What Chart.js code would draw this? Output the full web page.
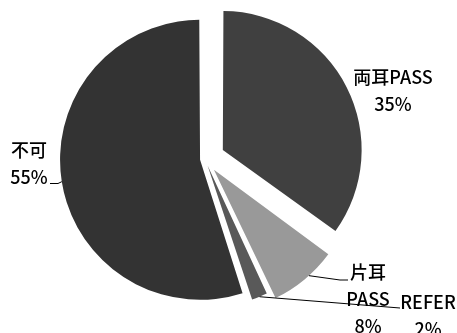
<!DOCTYPE html>
<html lang="ja">
<head>
<meta charset="utf-8">
<title>聴力検査結果</title>
<script src="https://cdn.jsdelivr.net/npm/chart.js@4/dist/chart.umd.min.js"></script>
<style>
  html, body { margin: 0; padding: 0; background: #fff; }
  #wrap { width: 457px; height: 333px; position: relative; }
</style>
</head>
<body>
<div id="wrap"><canvas id="pieChart"></canvas></div>
<script>
const categories = ["両耳PASS", "片耳PASS", "REFER", "不可"];
const percents = [35, 8, 2, 55];
const sliceColors = ["#404040", "#999999", "#595959", "#333333"];

// pull-out distance of each slice (Chart.js divides this by 4)
const sliceOffsets = [80, 56, 28, 20];

// where each label sits and how its leader line runs
const labelLayout = [
  { x: 393, y: 77, breakAt: 8, edgeAt: null, leader: [] },
  { x: 368, y: 272, breakAt: 2, edgeAt: 0.42, leader: [[340, 280], [348, 280]] },
  { x: 428, y: 302, breakAt: 5, edgeAt: 0.5, leader: [[400, 308]] },
  { x: 29, y: 150, breakAt: 2, edgeAt: 0.5, leader: [[58, 183.5], [50, 183.5]] },
];

const sliceLabels = {
  id: "sliceLabels",
  afterDatasetsDraw(chart) {
    const { ctx } = chart;
    const arcs = chart.getDatasetMeta(0).data;
    const total = percents.reduce((a, b) => a + b, 0);
    ctx.save();
    ctx.strokeStyle = "#000";
    ctx.lineWidth = 1;
    arcs.forEach((arc, i) => {
      const spot = labelLayout[i];
      if (spot.edgeAt !== null) {
        const { x, y, startAngle, endAngle, outerRadius } = arc.getProps(
          ["x", "y", "startAngle", "endAngle", "outerRadius"], true);
        const off = (arc.options.offset || 0) / 4;
        const half = (startAngle + endAngle) / 2;
        const sweep = endAngle - startAngle;
        const r = outerRadius + off * (1 - Math.sin(Math.min(Math.PI, sweep)));
        const a = startAngle + sweep * spot.edgeAt;
        const ex = x + Math.cos(half) * off + Math.cos(a) * r;
        const ey = y + Math.sin(half) * off + Math.sin(a) * r;
        ctx.beginPath();
        ctx.moveTo(ex, ey);
        spot.leader.forEach(([lx, ly]) => ctx.lineTo(lx, ly));
        ctx.stroke();
      }
      const name = categories[i];
      const lines = [name.slice(0, spot.breakAt), name.slice(spot.breakAt)]
        .filter((s) => s.length);
      lines.push(Math.round((percents[i] / total) * 100) + "%");
      ctx.font = '500 18px "Noto Sans CJK JP", "Noto Sans", sans-serif';
      ctx.fillStyle = "#000";
      ctx.textAlign = "center";
      ctx.textBaseline = "middle";
      lines.forEach((t, k) => ctx.fillText(t, spot.x, spot.y + k * 27));
    });
    ctx.restore();
  },
};

new Chart(document.getElementById("pieChart"), {
  type: "pie",
  data: {
    labels: categories,
    datasets: [
      {
        data: percents,
        backgroundColor: sliceColors,
        borderWidth: 0,
        offset: sliceOffsets,
        hoverOffset: 0,
      },
    ],
  },
  options: {
    responsive: true,
    maintainAspectRatio: false,
    animation: false,
    radius: 135,
    layout: { padding: { left: 0, right: 47, top: 0, bottom: 15 } },
    plugins: {
      legend: { display: false },
      tooltip: { enabled: false },
    },
    events: [],
  },
  plugins: [sliceLabels],
});
</script>
</body>
</html>
